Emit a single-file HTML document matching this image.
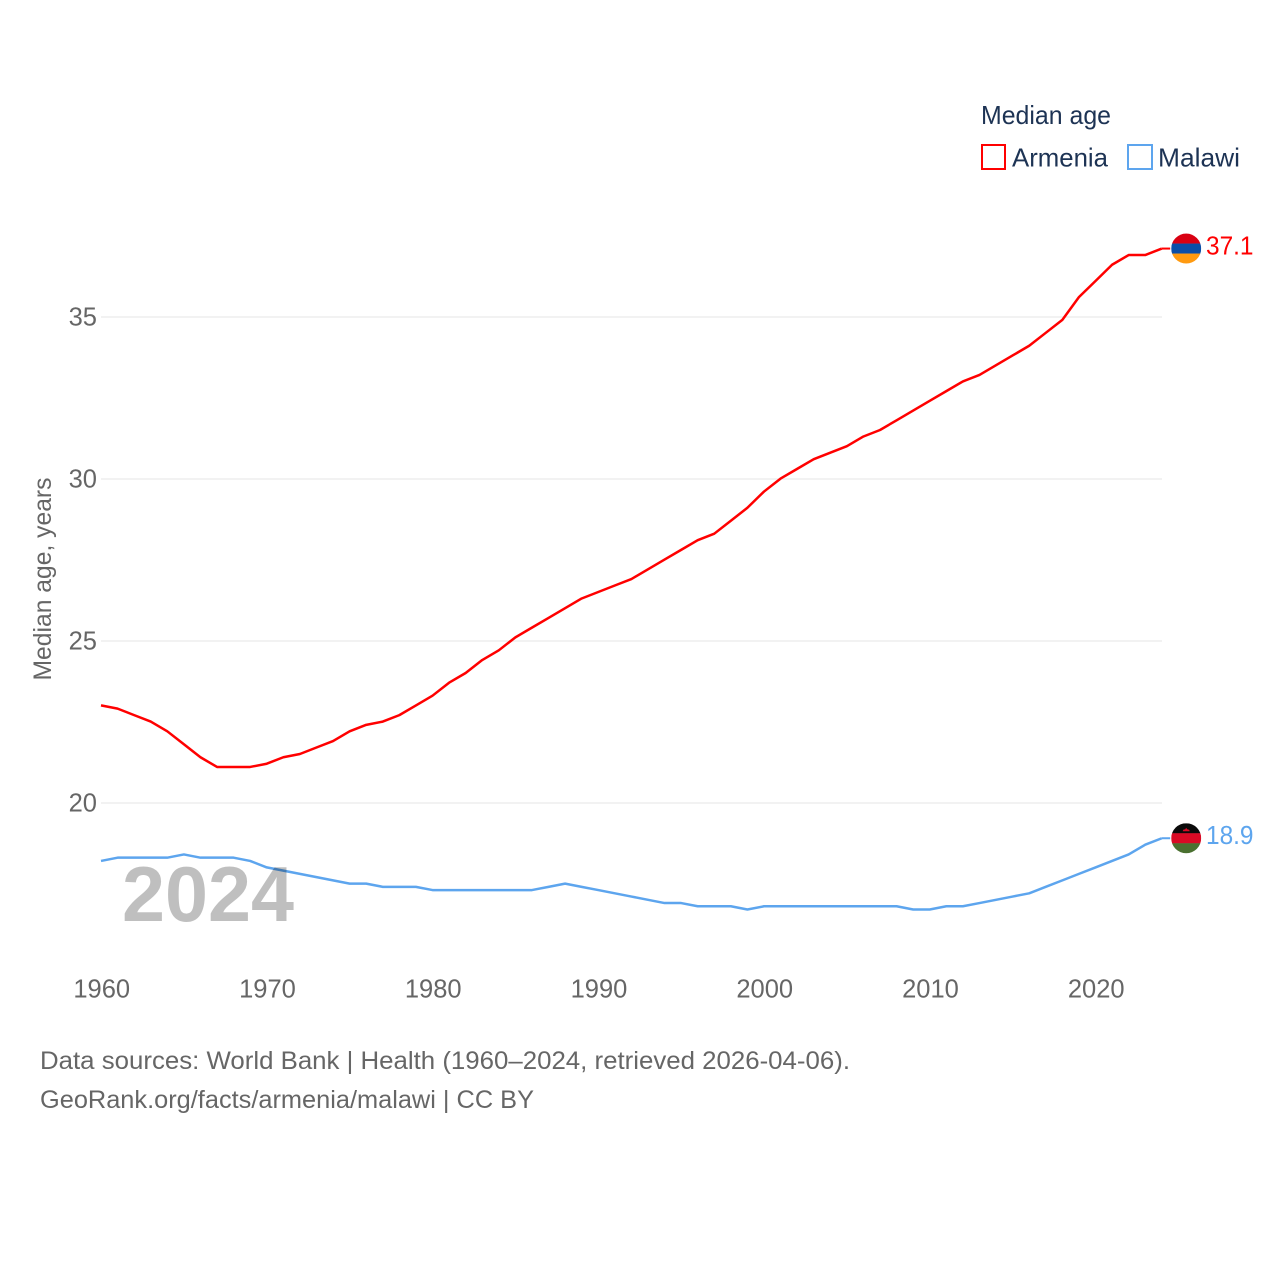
<!DOCTYPE html>
<html lang="en">
<head>
<meta charset="utf-8">
<title>Median age: Armenia and Malawi</title>
<style>
  html, body { margin: 0; padding: 0; background: #fff; }
  svg { display: block; font-family: "Liberation Sans", sans-serif; }
</style>
</head>
<body>
<svg id="chart" width="1280" height="1280" viewBox="0 0 1280 1280" xmlns="http://www.w3.org/2000/svg">
  <rect width="1280" height="1280" fill="#fff"/>
  <g id="grid"></g>
  <g id="yticks"></g>
  <g id="xticks"></g>
  <text transform="translate(51,579) rotate(-90)" text-anchor="middle" font-size="25" fill="#666" textLength="203" lengthAdjust="spacingAndGlyphs">Median age, years</text>

  <g>
    <text x="981" y="124" font-size="26" fill="#1d3354" textLength="130" lengthAdjust="spacingAndGlyphs">Median age</text>
    <g>
      <rect x="982" y="145" width="23" height="24" fill="#fff" stroke="#ff0000" stroke-width="2"/>
      <text x="1012" y="166.5" font-size="26" fill="#1d3354" textLength="96" lengthAdjust="spacingAndGlyphs">Armenia</text>
    </g>
    <g>
      <rect x="1128" y="145" width="24" height="24" fill="#fff" stroke="#5da5ee" stroke-width="2"/>
      <text x="1158" y="166.5" font-size="26" fill="#1d3354" textLength="82" lengthAdjust="spacingAndGlyphs">Malawi</text>
    </g>
  </g>

  <g id="series"></g>

  <text x="122" y="921" font-size="78" font-weight="700" fill="#000" fill-opacity="0.25" textLength="172" lengthAdjust="spacingAndGlyphs">2024</text>

  <defs>
    <clipPath id="clip-armenia"><circle id="clip-circle-armenia" r="15"/></clipPath>
    <clipPath id="clip-malawi"><circle id="clip-circle-malawi" r="15"/></clipPath>
  </defs>
  <g id="flag-armenia" clip-path="url(#clip-armenia)"></g>
  <g id="flag-malawi" clip-path="url(#clip-malawi)"></g>
  <g id="end-labels"></g>

  <text x="40" y="1069" font-size="25" fill="#666" textLength="810" lengthAdjust="spacingAndGlyphs">Data sources: World Bank | Health (1960–2024, retrieved 2026-04-06).</text>
  <text x="40" y="1108" font-size="25" fill="#666" textLength="494" lengthAdjust="spacingAndGlyphs">GeoRank.org/facts/armenia/malawi | CC BY</text>
</svg>
<script>
const years = [1960,1961,1962,1963,1964,1965,1966,1967,1968,1969,1970,1971,1972,1973,1974,1975,1976,1977,1978,1979,1980,1981,1982,1983,1984,1985,1986,1987,1988,1989,1990,1991,1992,1993,1994,1995,1996,1997,1998,1999,2000,2001,2002,2003,2004,2005,2006,2007,2008,2009,2010,2011,2012,2013,2014,2015,2016,2017,2018,2019,2020,2021,2022,2023,2024];
const armeniaValues = [23.0,22.9,22.7,22.5,22.2,21.8,21.4,21.1,21.1,21.1,21.2,21.4,21.5,21.7,21.9,22.2,22.4,22.5,22.7,23.0,23.3,23.7,24.0,24.4,24.7,25.1,25.4,25.7,26.0,26.3,26.5,26.7,26.9,27.2,27.5,27.8,28.1,28.3,28.7,29.1,29.6,30.0,30.3,30.6,30.8,31.0,31.3,31.5,31.8,32.1,32.4,32.7,33.0,33.2,33.5,33.8,34.1,34.5,34.9,35.6,36.1,36.6,36.9,36.9,37.1];
const malawiValues = [18.2,18.3,18.3,18.3,18.3,18.4,18.3,18.3,18.3,18.2,18.0,17.9,17.8,17.7,17.6,17.5,17.5,17.4,17.4,17.4,17.3,17.3,17.3,17.3,17.3,17.3,17.3,17.4,17.5,17.4,17.3,17.2,17.1,17.0,16.9,16.9,16.8,16.8,16.8,16.7,16.8,16.8,16.8,16.8,16.8,16.8,16.8,16.8,16.8,16.7,16.7,16.8,16.8,16.9,17.0,17.1,17.2,17.4,17.6,17.8,18.0,18.2,18.4,18.7,18.9];
const yTickValues = [20,25,30,35];
const xTickValues = [1960,1970,1980,1990,2000,2010,2020];

const NS = 'http://www.w3.org/2000/svg';
const xScale = year => 101 + (year - 1960) * 16.575;
const yScale = value => 802.6 - (value - 20) * 32.4;
const make = (tag, attrs) => {
  const el = document.createElementNS(NS, tag);
  for (const k in attrs) el.setAttribute(k, attrs[k]);
  return el;
};

const grid = document.getElementById('grid');
const yticks = document.getElementById('yticks');
yTickValues.forEach(v => {
  const line = make('line', {x1: xScale(1960), x2: 1162, y1: yScale(v) + 0.4, y2: yScale(v) + 0.4, stroke: '#eeeeee', 'stroke-width': 1.5});
  
  
  grid.appendChild(line);
  const label = make('text', {x: 97, y: yScale(v) + 9, 'text-anchor': 'end', 'font-size': 25.5, fill: '#666'});
  
  
  label.textContent = v;
  yticks.appendChild(label);
});

const xticks = document.getElementById('xticks');
xTickValues.forEach(y => {
  const label = make('text', {x: xScale(y) + 0.7, y: 997.5, 'text-anchor': 'middle', 'font-size': 25.5, fill: '#666'});
  
  
  label.textContent = y;
  xticks.appendChild(label);
});

const series = document.getElementById('series');
const lastYear = years[years.length - 1];
const pathFor = values => years.map((y, i) => (i ? 'L' : 'M') + xScale(y).toFixed(2) + ' ' + yScale(values[i]).toFixed(2)).join(' ');

const armeniaLine = make('path', {d: pathFor(armeniaValues), fill: 'none', stroke: '#ff0000', 'stroke-width': 2.5, 'stroke-linejoin': 'round'});


series.appendChild(armeniaLine);

const malawiLine = make('path', {d: pathFor(malawiValues), fill: 'none', stroke: '#5da5ee', 'stroke-width': 2.5, 'stroke-linejoin': 'round'});


series.appendChild(malawiLine);

const armeniaLast = armeniaValues[armeniaValues.length - 1];
const malawiLast = malawiValues[malawiValues.length - 1];
const flagX = xScale(lastYear) + 24.4;

const armeniaConnector = make('line', {x1: xScale(lastYear), x2: flagX - 16, y1: yScale(armeniaLast), y2: yScale(armeniaLast), stroke: '#ff0000', 'stroke-width': 2});


series.appendChild(armeniaConnector);

const malawiConnector = make('line', {x1: xScale(lastYear), x2: flagX - 16, y1: yScale(malawiLast), y2: yScale(malawiLast), stroke: '#5da5ee', 'stroke-width': 2});


series.appendChild(malawiConnector);

const drawFlag = (groupId, clipId, value, colors) => {
  const cy = yScale(value);
  const clip = document.getElementById(clipId);
  clip.setAttribute('cx', flagX);
  clip.setAttribute('cy', cy);
  const group = document.getElementById(groupId);
  colors.forEach((color, i) => {
    const band = make('rect', {x: flagX - 15, y: cy - 15 + i * 10, width: 30, height: 10.2, fill: color});
    
    
    group.appendChild(band);
  });
  return cy;
};
drawFlag('flag-armenia', 'clip-circle-armenia', armeniaLast, ['#d90012', '#0a4ea8', '#ff9a10']);
const malawiCy = drawFlag('flag-malawi', 'clip-circle-malawi', malawiLast, ['#0a0a0a', '#d90a25', '#4a7030']);

const malawiSun = make('path', {d: `M${flagX - 3.5} ${malawiCy - 7} L${flagX - 3} ${malawiCy - 8.5} L${flagX - 1} ${malawiCy - 9} L${flagX} ${malawiCy - 10.5} L${flagX + 1} ${malawiCy - 9} L${flagX + 3} ${malawiCy - 8.5} L${flagX + 3.5} ${malawiCy - 7} Z`, fill: '#d90a25'});


document.getElementById('flag-malawi').appendChild(malawiSun);

const endLabels = document.getElementById('end-labels');
const armeniaEnd = make('text', {x: 1206, y: yScale(armeniaLast) + 6, 'font-size': 25.5, fill: '#ff0000', textLength: 47.5, lengthAdjust: 'spacingAndGlyphs'});


armeniaEnd.textContent = armeniaLast.toFixed(1);
endLabels.appendChild(armeniaEnd);

const malawiEnd = make('text', {x: 1206, y: yScale(malawiLast) + 6, 'font-size': 25.5, fill: '#5da5ee', textLength: 47.5, lengthAdjust: 'spacingAndGlyphs'});


malawiEnd.textContent = malawiLast.toFixed(1);
endLabels.appendChild(malawiEnd);
</script>
</body>
</html>
